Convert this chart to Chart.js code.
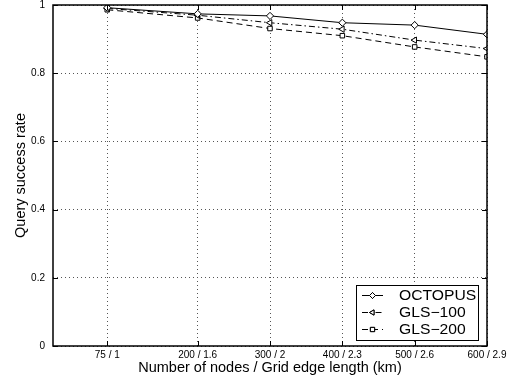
<!DOCTYPE html>
<html><head><meta charset="utf-8">
<script src="https://cdn.jsdelivr.net/npm/chart.js@4/dist/chart.umd.min.js"></script>
<style>html,body{margin:0;padding:0;background:#fff}#wrap{width:517px;height:383px}</style>
</head><body><div id="wrap"><canvas id="c" width="517" height="383"></canvas></div>
<script>
const nodes = [75, 200, 300, 400, 500, 600];
const edgeLengths = ['1', '1.6', '2', '2.3', '2.6', '2.9'];
const octopus = [0.992, 0.974, 0.968, 0.948, 0.941, 0.914];
const gls100 = [0.990, 0.970, 0.948, 0.929, 0.897, 0.872];
const gls200 = [0.986, 0.962, 0.931, 0.910, 0.877, 0.848];
const yTicks = [0, 0.2, 0.4, 0.6, 0.8, 1];
const seriesNames = ['OCTOPUS', 'GLS\u2212100', 'GLS\u2212200'];

const FONT = 'Liberation Sans, Arial, Helvetica, sans-serif';
const pts = arr => nodes.map((n, i) => ({x: n, y: arr[i]}));

const styles = [
  {dash: [], point: 'rectRot', rot: 0, r: 3.6},
  {dash: [6, 3, 1.5, 3], point: 'triangle', rot: -90, r: 3.6},
  {dash: [6, 4], point: 'rect', rot: 0, r: 3.2}
];
const seriesData = [octopus, gls100, gls200];

const datasets = seriesData.map((d, i) => ({
  label: seriesNames[i],
  data: pts(d),
  borderColor: '#000',
  backgroundColor: '#fff',
  borderWidth: 1,
  borderDash: styles[i].dash,
  pointStyle: styles[i].point,
  rotation: styles[i].rot,
  pointRadius: styles[i].r,
  pointBorderWidth: 1,
  pointBorderColor: '#000',
  pointBackgroundColor: '#fff',
  fill: false,
  tension: 0
}));

const framePlugin = {
  id: 'frame',
  afterDatasetsDraw(chart) {
    const {ctx, chartArea: a, scales} = chart;
    ctx.save();
    ctx.strokeStyle = '#000';
    ctx.lineWidth = 1.5;
    ctx.setLineDash([]);
    ctx.strokeRect(a.left, a.top, a.right - a.left, a.bottom - a.top);
    // inward ticks
    ctx.lineWidth = 1;
    nodes.forEach(n => {
      const x = Math.round(scales.x.getPixelForValue(n)) + 0.5;
      ctx.beginPath(); ctx.moveTo(x, a.bottom); ctx.lineTo(x, a.bottom - 5); ctx.stroke();
      ctx.beginPath(); ctx.moveTo(x, a.top); ctx.lineTo(x, a.top + 5); ctx.stroke();
    });
    yTicks.forEach(v => {
      const y = Math.round(scales.y.getPixelForValue(v)) + 0.5;
      ctx.beginPath(); ctx.moveTo(a.left, y); ctx.lineTo(a.left + 5, y); ctx.stroke();
      ctx.beginPath(); ctx.moveTo(a.right, y); ctx.lineTo(a.right - 5, y); ctx.stroke();
    });
    // legend box
    const bx = 356.5, by = 285.5, bw = 122, bh = 55;
    ctx.fillStyle = '#fff';
    ctx.fillRect(bx, by, bw, bh);
    ctx.lineWidth = 1;
    ctx.strokeRect(bx, by, bw, bh);
    const rows = [295.5, 312.5, 329.5];
    ctx.font = '14px ' + FONT;
    ctx.textBaseline = 'middle';
    ctx.textAlign = 'left';
    rows.forEach((ry, i) => {
      ctx.strokeStyle = '#000';
      ctx.setLineDash(styles[i].dash);
      ctx.beginPath(); ctx.moveTo(362, ry); ctx.lineTo(383, ry); ctx.stroke();
      ctx.setLineDash([]);
      Chart.helpers.drawPoint(ctx, {pointStyle: styles[i].point, rotation: styles[i].rot, radius: 3, borderWidth: 1}, 372.5, ry);
      ctx.fillStyle = '#fff';
      ctx.fill();
      ctx.stroke();
      ctx.fillStyle = '#000';
      ctx.save();
      ctx.translate(399, ry + 1);
      ctx.scale(1.12, 1);
      ctx.fillText(seriesNames[i], 0, 0);
      ctx.restore();
    });
    ctx.restore();
  }
};

new Chart(document.getElementById('c'), {
  type: 'line',
  data: {datasets},
  options: {
    responsive: false,
    animation: false,
    layout: {padding: {left: 0, right: 30, top: 0, bottom: 0}},
    plugins: {legend: {display: false}, tooltip: {enabled: false}},
    scales: {
      x: {
        type: 'linear', min: 0, max: 600,
        afterBuildTicks: s => { s.ticks = nodes.map(v => ({value: v})); },
        afterFit: s => { s.height = 37; s.paddingLeft = 0; s.paddingRight = 0; },
        ticks: {
          autoSkip: false, maxRotation: 0,
          color: '#000', font: {family: FONT, size: 10}, padding: 3,
          callback: v => { const i = nodes.indexOf(v); return i >= 0 ? nodes[i] + ' / ' + edgeLengths[i] : ''; }
        },
        grid: {color: '#555', lineWidth: 1, drawTicks: false},
        border: {display: false, dash: [1, 3]},
        title: {display: true, text: 'Number of nodes / Grid edge length (km)', color: '#000', font: {family: FONT, size: 14.5}, padding: {top: 0, bottom: 6}}
      },
      y: {
        min: 0, max: 1,
        afterBuildTicks: s => { s.ticks = yTicks.map(v => ({value: v})); },
        afterFit: s => { s.width = 53; s.paddingTop = 3; s.paddingBottom = 0; },
        ticks: {
          color: '#000', font: {family: FONT, size: 10}, padding: 8,
          callback: v => String(v)
        },
        grid: {color: '#555', lineWidth: 1, drawTicks: false},
        border: {display: false, dash: [1, 3]},
        title: {display: true, text: 'Query success rate', color: '#000', font: {family: FONT, size: 14.5}, padding: {top: 12, bottom: 0}}
      }
    }
  },
  plugins: [framePlugin]
});
</script></body></html>
